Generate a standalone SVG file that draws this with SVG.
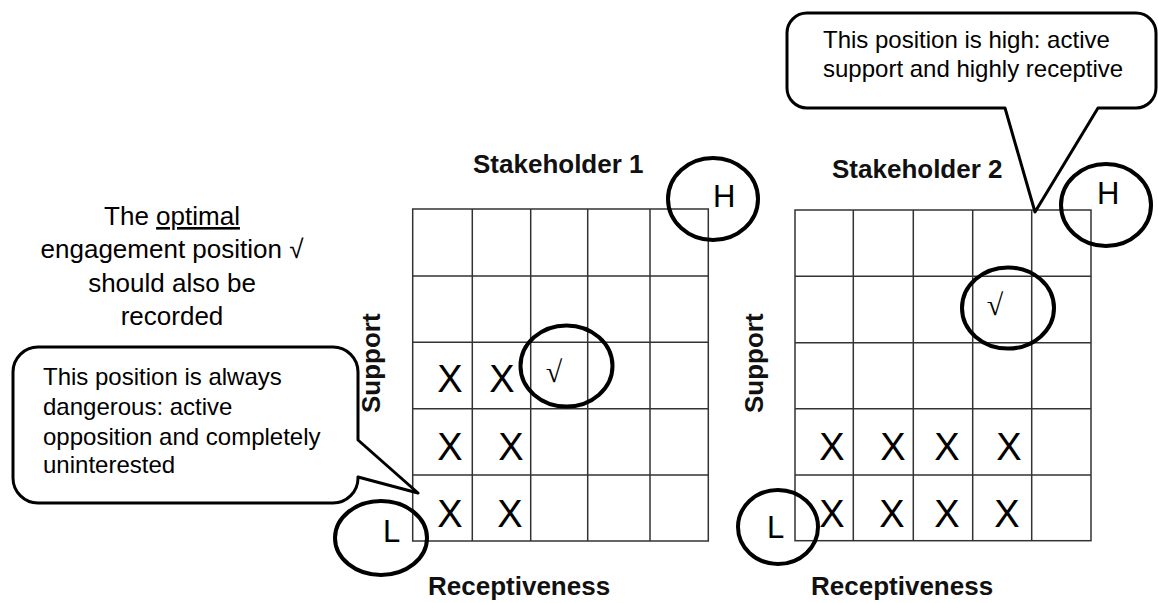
<svg xmlns="http://www.w3.org/2000/svg" width="1158" height="603" viewBox="0 0 1158 603">
  <style>
    .bg { fill: #ffffff; }
    .grid { fill: none; stroke: #333333; stroke-width: 1.5; }
    .ring { fill: none; stroke: #000000; stroke-width: 4; }
    .bubble { fill: #ffffff; stroke: #000000; stroke-width: 3; stroke-linejoin: round; }
    .txt { font-family: "Liberation Sans", Arial, sans-serif; fill: #000000; }
    .label { font-family: "Liberation Sans", Arial, sans-serif; font-size: 26px; font-weight: bold; fill: #111111; }
    .note { font-size: 24px; }
    .mark { font-family: "Liberation Sans", Arial, sans-serif; font-size: 38px; text-anchor: middle; fill: #000000; }
    .tick { font-family: "Liberation Serif", "Times New Roman", serif; font-size: 30px; text-anchor: middle; fill: #000000; }
    .corner { font-family: "Liberation Sans", Arial, sans-serif; font-size: 31px; fill: #000000; }
  </style>

  <rect class="bg" x="0" y="0" width="1158" height="603"/>

  <!-- Explanatory note on the left -->
  <g id="note-optimal">
    <text class="txt" x="172" y="225" font-size="26" text-anchor="middle">The <tspan text-decoration="underline">optimal</tspan></text>
    <text class="txt" x="172" y="258" font-size="26" text-anchor="middle">engagement position √</text>
    <text class="txt" x="172" y="292" font-size="26" text-anchor="middle">should also be</text>
    <text class="txt" x="172" y="325" font-size="26" text-anchor="middle">recorded</text>
  </g>

  <!-- Stakeholder 1 matrix -->
  <g id="matrix-1">
    <text class="label" x="473" y="173">Stakeholder 1</text>
    <text class="label" x="428" y="595">Receptiveness</text>
    <text class="label" transform="translate(380,413) rotate(-90)">Support</text>
    <g class="grid">
      <rect x="412.7" y="209" width="295.6" height="332"/>
      <path d="M472.3 209V541M530.7 209V541M587.7 209V541M650 209V541"/>
      <path d="M412.7 276H708.3M412.7 342.3H708.3M412.7 408.7H708.3M412.7 475H708.3"/>
    </g>
    <g id="matrix-1-marks">
      <text class="mark" x="450" y="392">X</text>
      <text class="mark" x="502" y="392">X</text>
      <text class="mark" x="450" y="460">X</text>
      <text class="mark" x="511" y="460">X</text>
      <text class="mark" x="450" y="527">X</text>
      <text class="mark" x="510" y="527">X</text>
      <text class="tick" x="554" y="382">√</text>
    </g>
    <ellipse class="ring" cx="566.5" cy="366" rx="46" ry="40.5"/>
    <ellipse class="ring" cx="713" cy="199" rx="45" ry="41"/>
    <text class="corner" x="713" y="207">H</text>
    <ellipse class="ring" cx="381" cy="538" rx="46" ry="37"/>
    <text class="corner" x="383" y="542">L</text>
  </g>

  <!-- Stakeholder 2 matrix -->
  <g id="matrix-2">
    <text class="label" x="832" y="178">Stakeholder 2</text>
    <text class="label" x="811" y="595">Receptiveness</text>
    <text class="label" transform="translate(763,413) rotate(-90)">Support</text>
    <g class="grid">
      <rect x="795" y="210" width="296" height="330.7"/>
      <path d="M853.3 210V540.7M913.3 210V540.7M972.7 210V540.7M1031.7 210V540.7"/>
      <path d="M795 276.3H1091M795 342.7H1091M795 408.7H1091M795 475H1091"/>
    </g>
    <g id="matrix-2-marks">
      <text class="mark" x="832" y="460">X</text>
      <text class="mark" x="893" y="460">X</text>
      <text class="mark" x="947" y="460">X</text>
      <text class="mark" x="1009" y="460">X</text>
      <text class="mark" x="832" y="527">X</text>
      <text class="mark" x="892" y="527">X</text>
      <text class="mark" x="947" y="527">X</text>
      <text class="mark" x="1007" y="527">X</text>
      <text class="tick" x="995" y="315">√</text>
    </g>
    <ellipse class="ring" cx="1008" cy="308" rx="46" ry="40.5"/>
    <ellipse class="ring" cx="1106" cy="205" rx="45" ry="41"/>
    <text class="corner" x="1097" y="204">H</text>
    <ellipse class="ring" cx="778" cy="527" rx="40" ry="37"/>
    <text class="corner" x="767" y="538">L</text>
  </g>

  <!-- Speech bubble pointing at the low corner of matrix 1 -->
  <g id="callout-danger">
    <path class="bubble" d="M38 347H333A25 25 0 0 1 358 372V440L418 493L358 477V478A25 25 0 0 1 333 503H38A25 25 0 0 1 13 478V372A25 25 0 0 1 38 347Z"/>
    <text class="txt note" x="43" y="385">This position is always</text>
    <text class="txt note" x="43" y="415">dangerous: active</text>
    <text class="txt note" x="43" y="445">opposition and completely</text>
    <text class="txt note" x="43" y="473">uninterested</text>
  </g>

  <!-- Speech bubble pointing at the high corner of matrix 2 -->
  <g id="callout-high">
    <path class="bubble" d="M807 13H1136A20 20 0 0 1 1156 33V88A20 20 0 0 1 1136 108H1098L1035 212L1005 108H807A20 20 0 0 1 787 88V33A20 20 0 0 1 807 13Z"/>
    <text class="txt note" x="823" y="48">This position is high: active</text>
    <text class="txt note" x="823" y="77">support and highly receptive</text>
  </g>
</svg>
